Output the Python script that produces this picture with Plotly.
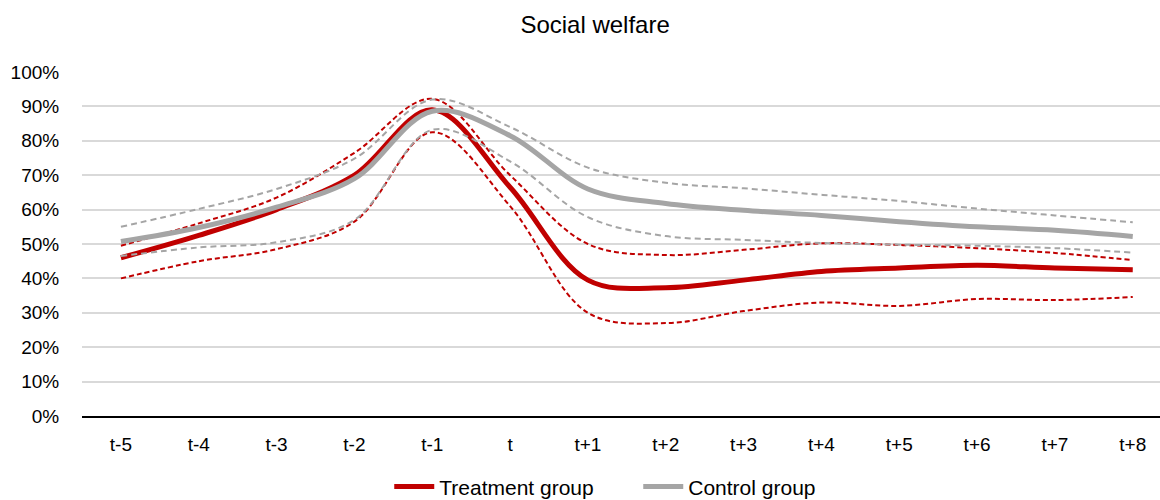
import plotly.graph_objects as go

periods = ["t-5", "t-4", "t-3", "t-2", "t-1", "t", "t+1", "t+2", "t+3",
           "t+4", "t+5", "t+6", "t+7", "t+8"]

treatment = [0.46, 0.525, 0.60, 0.70, 0.89, 0.665, 0.395, 0.373, 0.395,
             0.42, 0.43, 0.438, 0.43, 0.425]
treatment_upper = [0.495, 0.56, 0.635, 0.765, 0.922, 0.70, 0.50, 0.468, 0.483,
                   0.502, 0.497, 0.488, 0.474, 0.453]
treatment_lower = [0.40, 0.45, 0.485, 0.565, 0.825, 0.61, 0.30, 0.27, 0.305,
                   0.33, 0.32, 0.34, 0.337, 0.346]

control = [0.507, 0.548, 0.607, 0.69, 0.886, 0.815, 0.66, 0.618, 0.598,
           0.583, 0.565, 0.55, 0.54, 0.522]
control_upper = [0.55, 0.602, 0.66, 0.748, 0.92, 0.84, 0.722, 0.678, 0.662,
                 0.643, 0.625, 0.603, 0.583, 0.563]
control_lower = [0.465, 0.49, 0.505, 0.57, 0.832, 0.74, 0.578, 0.523, 0.512,
                 0.503, 0.498, 0.495, 0.488, 0.475]

RED = "#c00000"
GRAY = "#a5a5a5"

fig = go.Figure()


def add(y, color, width, dash=None, name=None, legend=False):
    fig.add_trace(go.Scatter(
        x=periods, y=y, mode="lines", name=name, showlegend=legend,
        line=dict(color=color, width=width, dash=dash, shape="spline", smoothing=1.0),
        hoverinfo="skip" if not legend else None,
    ))


add(treatment_lower, RED, 2, dash="5px,3px")
add(treatment_upper, RED, 2, dash="5px,3px")
add(treatment, RED, 5, name="Treatment group", legend=True)
add(control, GRAY, 5, name="Control group", legend=True)
add(control_upper, GRAY, 2, dash="6px,4px")
add(control_lower, GRAY, 2, dash="6px,4px")

fig.update_layout(
    width=1160, height=500,
    margin=dict(l=82, r=0, t=72, b=84, autoexpand=False),
    paper_bgcolor="white", plot_bgcolor="white",
    font=dict(family="Liberation Sans, Arial, sans-serif", size=19, color="#000000"),
    title=dict(text="Social welfare", x=0.513, xanchor="center", y=0.95,
               yanchor="middle", font=dict(size=24, color="#000000")),
    showlegend=True,
    legend=dict(orientation="h", x=0.516, xanchor="center", y=-0.206, yanchor="middle",
                font=dict(size=21), itemwidth=40, tracegroupgap=0,
                entrywidth=194, entrywidthmode="pixels"),
)

fig.update_xaxes(
    type="category", range=[-0.5, 13.35],
    showgrid=False, showline=True, linecolor="#000000", linewidth=1.5,
    ticks="outside", ticklen=10, tickcolor="rgba(0,0,0,0)",
    tickfont=dict(size=19), zeroline=False, automargin=False,
)
fig.update_yaxes(
    range=[0, 1.0], dtick=0.1, tickformat=".0%",
    showgrid=True, gridcolor="#d9d9d9", gridwidth=1.5,
    showline=False, zeroline=False, automargin=False,
    ticks="outside", ticklen=18, tickcolor="rgba(0,0,0,0)",
    tickfont=dict(size=19),
)

fig.write_html("out.html")
